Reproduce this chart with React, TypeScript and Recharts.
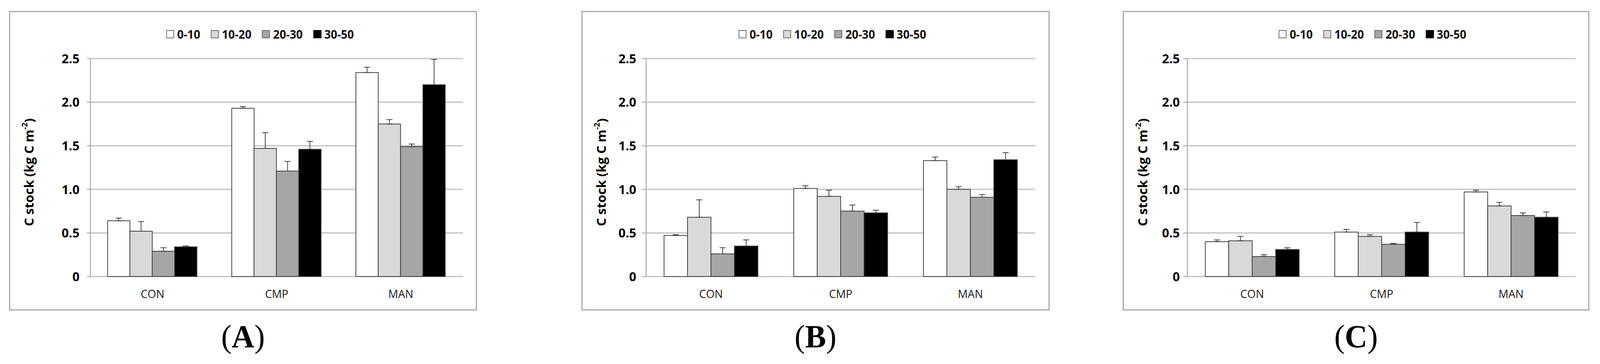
import React from "react";
import { BarChart, Bar, XAxis, YAxis, CartesianGrid, ErrorBar, Legend, Label } from "recharts";

const CATEGORIES = ["CON", "CMP", "MAN"];
const DEPTHS = ["0-10", "10-20", "20-30", "30-50"];
const Y_TICKS = [0, 0.5, 1, 1.5, 2, 2.5];
const FILLS = ["#ffffff", "#d9d9d9", "#a6a6a6", "#000000"];

// one row per treatment, one column per depth (kg C m-2)
const meanA = [
  [0.64, 0.52, 0.29, 0.34],
  [1.93, 1.47, 1.21, 1.46],
  [2.34, 1.75, 1.49, 2.2],
];
const errA = [
  [0.03, 0.11, 0.04, 0.01],
  [0.02, 0.18, 0.11, 0.09],
  [0.06, 0.05, 0.03, 0.29],
];
const meanB = [
  [0.47, 0.68, 0.26, 0.35],
  [1.01, 0.92, 0.75, 0.73],
  [1.33, 1.0, 0.91, 1.34],
];
const errB = [
  [0.01, 0.2, 0.07, 0.07],
  [0.03, 0.07, 0.07, 0.03],
  [0.04, 0.03, 0.03, 0.08],
];
const meanC = [
  [0.4, 0.41, 0.23, 0.31],
  [0.51, 0.46, 0.37, 0.51],
  [0.97, 0.81, 0.7, 0.68],
];
const errC = [
  [0.02, 0.05, 0.02, 0.02],
  [0.03, 0.02, 0.01, 0.11],
  [0.02, 0.04, 0.03, 0.06],
];

const PAGE_W = 4227;
const PAGE_H = 932;
const AXIS = "#b4b4b4";
const OUTLINE = "#404040";

const buildRows = (mean: number[][], err: number[][]) =>
  CATEGORIES.map((name, i) => {
    const row: Record<string, unknown> = { name };
    DEPTHS.forEach((_, j) => {
      row[`m${j}`] = mean[i][j];
      row[`e${j}`] = [0, err[i][j]];
    });
    return row;
  });

const renderLegend = () => (
  <div style={{ display: "flex", alignItems: "center", fontFamily: "Open Sans", fontWeight: 700, fontSize: 30, color: "#111", whiteSpace: "nowrap" }}>
    {DEPTHS.map((d, j) => (
      <div key={d} style={{ display: "flex", alignItems: "center", marginRight: j < 3 ? 28 : 0 }}>
        <span
          style={{
            width: 21,
            height: 21,
            boxSizing: "border-box",
            background: FILLS[j],
            border: `2px solid ${j === 3 ? "#000" : "#6b6b6b"}`,
            marginRight: 8,
            display: "inline-block",
          }}
        />
        <span>{d}</span>
      </div>
    ))}
  </div>
);

type Props = {
  letter: string;
  left: number;
  width: number;
  yWidth: number;
  marginRight: number;
  yTickSize: number;
  yTickMargin: number;
  legendLeft: number;
  mean: number[][];
  err: number[][];
};

const FRAME_TOP = 28;
const FRAME_H = 767;

function Panel({ letter, left, width, yWidth, marginRight, yTickSize, yTickMargin, legendLeft, mean, err }: Props) {
  const data = buildRows(mean, err);
  const w = width - 6;
  const h = FRAME_H - 6;
  return (
    <>
      <div
        style={{
          position: "absolute",
          left,
          top: FRAME_TOP,
          width,
          height: FRAME_H,
          boxSizing: "border-box",
          border: "3px solid #a8a8a8",
        }}
      >
        <BarChart
          width={w}
          height={h}
          data={data}
          margin={{ top: 119, right: marginRight, bottom: 44, left: 0 }}
          barCategoryGap="13.8%"
          barGap={0}
          style={{ fontFamily: "Open Sans" }}
        >
          <CartesianGrid xAxisId="cat" vertical={false} stroke="#c0c0c0" strokeWidth={3} />
          <XAxis
            xAxisId="edge"
            type="number"
            domain={[0, 3]}
            ticks={[0, 1, 2, 3]}
            allowDataOverflow
            tick={false}
            tickSize={10}
            tickLine={{ stroke: AXIS, strokeWidth: 3 }}
            axisLine={{ stroke: AXIS, strokeWidth: 3 }}
            height={0}
          />
          <XAxis
            xAxisId="cat"
            dataKey="name"
            axisLine={false}
            tickLine={false}
            tickSize={0}
            tickMargin={34}
            height={40}
            interval={0}
            tick={{ fontSize: 29, fontWeight: 500, fill: "#1a1a1a" }}
          />
          <YAxis
            type="number"
            domain={[0, 2.5]}
            ticks={Y_TICKS}
            interval={0}
            width={yWidth}
            tickSize={yTickSize}
            tickMargin={yTickMargin}
            tickLine={{ stroke: AXIS, strokeWidth: 3 }}
            axisLine={{ stroke: AXIS, strokeWidth: 3 }}
            tick={{ fontSize: 33, fontWeight: 700, fill: "#000" }}
            tickFormatter={(v: number) => (v === 0 ? "0" : v.toFixed(1))}
          >
            <Label
              content={() => (
                <text
                  x={49}
                  y={410}
                  transform="rotate(-90 49 410)"
                  textAnchor="middle"
                  dominantBaseline="central"
                  fontFamily="Open Sans"
                  fontWeight={700}
                  fontSize={33}
                  fill="#000"
                >
                  C stock (kg C m<tspan dy={-12} fontSize={20}>-2</tspan>
                  <tspan dy={12}>)</tspan>
                </text>
              )}
            />
          </YAxis>
          <Legend
            layout="horizontal"
            verticalAlign="middle"
            align="center"
            wrapperStyle={{ top: 36, left: legendLeft, width: "auto" }}
            content={renderLegend}
          />
          {DEPTHS.map((d, j) => (
            <Bar
              key={d}
              xAxisId="cat"
              dataKey={`m${j}`}
              name={d}
              fill={FILLS[j]}
              stroke={OUTLINE}
              strokeWidth={2}
              isAnimationActive={false}
            >
              <ErrorBar dataKey={`e${j}`} direction="y" width={8} stroke={OUTLINE} strokeWidth={2} isAnimationActive={false} />
            </Bar>
          ))}
        </BarChart>
      </div>
      <div
        style={{
          position: "absolute",
          left,
          width,
          top: 820,
          textAlign: "center",
          fontFamily: "Liberation Serif",
          fontSize: 83,
          lineHeight: "83px",
          color: "#000",
        }}
      >
        (<b>{letter}</b>)
      </div>
    </>
  );
}

export default function App() {
  // the window may be narrower than the figure; squeeze it to fit the width
  const sx = typeof window !== "undefined" ? Math.min(1, window.innerWidth / PAGE_W) : 1;
  return (
    <div
      style={{
        position: "absolute",
        left: 0,
        top: 0,
        width: PAGE_W,
        height: PAGE_H,
        background: "#fff",
        transform: `scaleX(${sx})`,
        transformOrigin: "0 0",
      }}
    >
      <Panel letter="A" left={24} width={1236} yWidth={212} marginRight={34} yTickSize={9} yTickMargin={20} legendLeft={412} mean={meanA} err={errA} />
      <Panel letter="B" left={1536} width={1237} yWidth={168} marginRight={35} yTickSize={11} yTickMargin={15} legendLeft={412} mean={meanB} err={errB} />
      <Panel letter="C" left={2966} width={1233} yWidth={168} marginRight={33} yTickSize={11} yTickMargin={9} legendLeft={409} mean={meanC} err={errC} />
    </div>
  );
}
